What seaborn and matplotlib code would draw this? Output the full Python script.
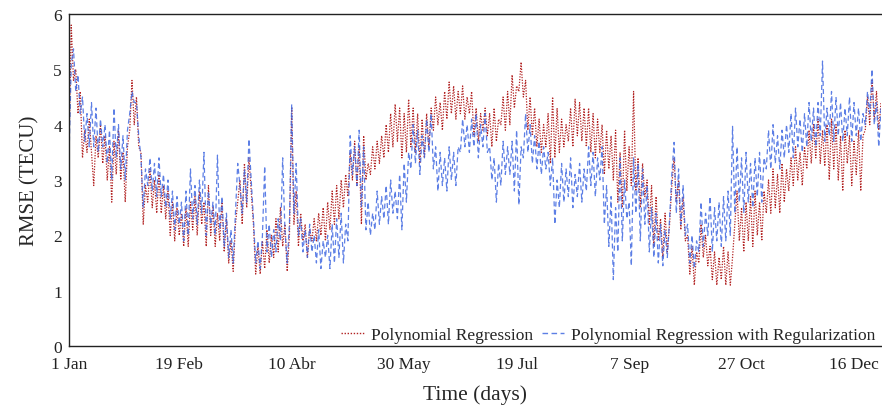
import numpy as np
import pandas as pd
import seaborn as sns
import matplotlib.pyplot as plt

# Daily RMSE (TECU), day 0 = 1 Jan
poly_reg = [
    3.6, 5.8, 4.8, 5.0, 4.2, 4.6, 3.4, 3.9, 3.5, 4.1,
    3.5, 2.9, 3.8, 3.4, 4.0, 3.3, 3.8, 3.0, 3.6, 2.6,
    3.7, 3.1, 3.9, 3.0, 3.5, 2.6, 3.6, 3.9, 4.8, 4.0,
    4.5, 3.6, 3.5, 2.2, 2.9, 2.6, 3.2, 2.5, 3.0, 2.4,
    3.1, 2.4, 2.9, 2.3, 2.8, 2.0, 2.6, 1.9, 2.5, 2.0,
    2.4, 1.8, 2.5, 1.8, 2.6, 2.1, 2.7, 2.0, 2.8, 2.2,
    2.6, 1.8, 2.9, 2.0, 2.5, 1.8, 2.4, 1.9, 2.6, 1.7,
    2.3, 1.5, 1.9, 1.35, 2.2, 2.6, 3.0, 2.2, 3.3, 2.5,
    3.4, 2.8, 2.2, 1.3, 1.8, 1.3, 1.9, 1.4, 2.1, 1.5,
    2.0, 1.6, 2.3, 1.7, 2.5, 1.8, 2.2, 1.35, 2.0, 4.3,
    2.2, 2.8, 1.8, 2.4, 1.9, 2.2, 1.6, 2.1, 1.9, 2.3,
    1.9, 2.4, 2.0, 2.5, 1.9, 2.6, 2.1, 2.8, 2.2, 2.9,
    2.3, 3.0, 2.5, 3.1, 2.7, 3.5, 3.0, 3.7, 2.9, 3.6,
    2.2, 3.8, 3.0, 3.3, 3.1, 3.6, 3.2, 3.7, 3.3, 3.8,
    3.4, 4.0, 3.5, 4.2, 3.6, 4.37, 3.7, 4.3, 3.4, 4.2,
    3.5, 4.46, 3.6, 4.3, 3.5, 4.2, 3.3, 4.1, 3.4, 4.2,
    3.6, 4.3, 3.9, 4.5, 4.0, 4.4, 3.9, 4.6, 4.1, 4.77,
    4.2, 4.7, 4.1, 4.6, 4.2, 4.7, 4.1, 4.5, 4.2, 4.6,
    3.8, 4.3, 3.7, 4.2, 3.9, 4.3, 3.8, 4.2, 3.6, 4.3,
    3.7, 4.1, 4.0, 4.5, 3.9, 4.6, 4.0, 4.9, 4.3, 4.7,
    4.6, 5.13, 4.5, 4.8, 3.9, 4.5, 3.8, 4.3, 3.6, 4.1,
    3.5, 4.0, 3.6, 4.2, 3.3, 4.5, 3.4, 4.3, 3.5, 4.1,
    3.6, 4.0, 3.7, 4.3, 3.6, 4.46, 3.8, 4.4, 3.7, 4.3,
    3.6, 4.3, 3.5, 4.2, 3.4, 4.1, 3.5, 4.0, 3.1, 3.9,
    3.2, 3.8, 3.0, 3.9, 2.6, 3.5, 2.5, 3.9, 2.8, 3.6,
    2.9, 4.6, 2.8, 3.4, 2.5, 3.3, 2.7, 3.0, 2.2, 2.9,
    1.8, 2.7, 1.9, 2.3, 1.6, 2.4, 1.7, 2.2, 2.9, 3.4,
    2.6, 3.0, 2.1, 2.7, 1.9, 2.0, 1.3, 1.8, 1.1, 1.7,
    1.5, 2.2, 1.6, 2.0, 1.45, 1.8, 1.2, 1.7, 1.1, 1.6,
    1.2, 1.8, 1.1, 1.7, 1.1, 1.6, 2.2, 2.8, 1.9, 2.5,
    1.7, 2.6, 1.9, 2.7, 1.8, 2.8, 2.0, 2.6, 1.9, 2.8,
    2.4, 3.0, 2.4, 3.2, 2.5, 3.1, 2.4, 3.3, 2.6, 3.2,
    2.8, 3.4, 2.9, 3.6, 3.0, 3.5, 2.9, 3.6, 3.2, 3.9,
    3.3, 4.0, 3.4, 4.1, 3.3, 3.9, 3.25, 4.0, 3.0, 4.1,
    3.2, 4.0, 3.0, 3.8, 2.8, 3.9, 3.3, 3.8, 2.9, 3.7,
    3.1, 3.9, 2.8, 3.8, 3.9, 4.5, 4.0, 4.8, 4.1, 4.6, 3.9, 4.4,
]

poly_reg_l2 = [
    3.4, 5.1, 5.37, 4.6, 4.9, 4.2, 4.5, 3.7, 4.2, 3.6,
    4.4, 3.6, 4.3, 3.5, 4.1, 3.6, 4.0, 3.3, 3.9, 3.0,
    4.3, 3.4, 4.0, 3.2, 3.8, 3.0, 3.9, 4.2, 4.6, 4.4,
    4.4, 3.8, 3.4, 2.5, 3.2, 2.9, 3.4, 2.8, 3.3, 2.7,
    3.4, 2.7, 3.1, 2.5, 3.0, 2.3, 2.8, 2.1, 2.7, 2.2,
    2.6, 1.9, 2.8, 2.0, 3.2, 2.3, 2.9, 2.2, 3.0, 2.4,
    3.5, 2.0, 2.8, 2.2, 2.6, 2.0, 3.45, 2.1, 2.7, 1.8,
    2.4, 1.6, 2.1, 1.5, 2.4, 3.3, 2.9, 2.4, 3.2, 2.6,
    3.74, 3.0, 2.3, 1.5, 1.9, 1.4, 2.0, 3.25, 1.7, 2.2,
    1.6, 2.1, 1.7, 2.3, 1.9, 3.4, 2.1, 1.5, 2.2, 4.37,
    2.4, 3.3, 2.0, 2.3, 1.7, 2.1, 1.6, 2.2, 1.7, 2.0,
    1.5, 2.1, 1.4, 1.9, 1.6, 2.0, 1.4, 2.2, 1.5, 2.3,
    1.6, 2.4, 1.5, 2.2, 1.9, 3.8, 3.1, 3.6, 2.9, 3.9,
    2.5, 3.6, 2.1, 2.6, 2.0, 2.4, 2.1, 2.8, 2.2, 2.7,
    2.3, 2.9, 2.2, 3.0, 2.4, 2.8, 2.3, 3.1, 2.1, 3.3,
    2.6, 3.5, 3.2, 4.0, 3.3, 3.9, 3.1, 3.8, 3.4, 4.1,
    3.5, 4.2, 3.2, 3.6, 2.8, 3.5, 2.9, 3.4, 2.8, 3.6,
    3.0, 3.5, 2.9, 3.6, 3.5, 4.1, 3.6, 4.0, 3.5, 4.1,
    3.6, 4.2, 3.4, 4.0, 3.6, 4.2, 3.5, 3.6, 3.0, 3.4,
    2.6, 3.3, 2.9, 3.7, 3.1, 3.6, 3.1, 3.7, 2.8, 3.9,
    2.55, 3.6, 3.4, 4.2, 3.5, 4.0, 3.3, 3.8, 3.2, 3.7,
    3.1, 3.6, 3.2, 3.5, 2.9, 3.4, 2.2, 3.0, 2.5, 3.3,
    2.6, 3.2, 2.7, 3.4, 2.5, 3.1, 2.7, 3.3, 2.6, 3.2,
    2.8, 3.6, 2.9, 3.5, 2.7, 3.4, 3.0, 3.6, 2.2, 2.9,
    1.8, 2.7, 1.2, 2.5, 1.7, 3.4, 1.9, 3.0, 2.3, 2.6,
    1.45, 3.4, 2.4, 3.3, 1.9, 3.2, 2.2, 2.9, 1.7, 2.5,
    1.6, 2.4, 1.5, 2.2, 1.45, 2.1, 1.6, 2.3, 3.1, 3.68,
    2.4, 3.2, 2.2, 2.9, 2.0, 2.2, 1.5, 2.0, 1.4, 1.9,
    1.7, 2.6, 1.8, 2.4, 2.0, 2.7, 1.7, 2.5, 1.9, 2.6,
    1.8, 2.7, 1.9, 2.8, 2.0, 3.97, 2.4, 3.6, 2.6, 3.4,
    2.4, 3.5, 2.6, 3.3, 2.5, 3.4, 2.7, 3.5, 2.6, 3.4,
    3.2, 3.9, 3.2, 4.0, 3.3, 3.8, 3.2, 3.9, 3.4, 4.0,
    3.5, 4.2, 3.4, 4.3, 3.6, 4.1, 3.5, 4.2, 3.6, 4.4,
    3.7, 4.3, 3.6, 4.4, 3.8, 5.15, 3.7, 4.3, 3.8, 4.6,
    3.7, 4.5, 3.8, 4.4, 3.7, 4.3, 3.8, 4.5, 3.7, 4.4,
    3.8, 4.3, 3.7, 4.2, 4.0, 4.6, 4.2, 5.0, 4.0, 4.4, 3.6, 4.3,
]

tick_days = [0, 49, 99, 149, 199, 249, 299, 349]
tick_labels = ["1 Jan", "19 Feb", "10 Abr", "30 May", "19 Jul", "7 Sep", "27 Oct", "16 Dec"]

days = np.arange(len(poly_reg))
df = pd.DataFrame({"day": days, "poly": poly_reg, "poly_l2": poly_reg_l2})

sns.set_theme(style="white")
plt.rcParams["font.family"] = ["Liberation Serif", "DejaVu Serif"]

fig = plt.figure(figsize=(8.82, 4.06), dpi=100)
ax = fig.add_axes([69 / 882, 1 - 347 / 406, 812 / 882, 332 / 406])

sns.lineplot(data=df, x="day", y="poly", ax=ax, color="#b22222", linestyle=(0, (1, 1.2)),
             linewidth=0.9, label="Polynomial Regression")
sns.lineplot(data=df, x="day", y="poly_l2", ax=ax, color="#4169e1", linestyle=(0, (4, 2.5)),
             linewidth=0.9, alpha=0.85, label="Polynomial Regression with Regularization")

ax.set_xlim(0, 361)
ax.set_ylim(0, 6)
ax.set_xticks(tick_days)
ax.set_xticklabels(tick_labels)
ax.set_yticks(range(0, 7))
ax.tick_params(axis="x", length=0, pad=7, labelsize=12.5, colors="#222222")
ax.tick_params(axis="y", length=0, pad=5, labelsize=12.5, colors="#222222")
ax.set_xlabel("Time (days)", fontsize=15.5, labelpad=9)
ax.set_ylabel("RMSE (TECU)", fontsize=15, labelpad=10)
ax.spines["right"].set_visible(False)
for s in ["left", "bottom", "top"]:
    ax.spines[s].set_color("#222222")
    ax.spines[s].set_linewidth(1.0)

leg = ax.legend(loc="lower right", bbox_to_anchor=(1.002, -0.012), ncol=2, frameon=False,
                fontsize=12.5, handlelength=1.3, columnspacing=0.5, handletextpad=0.4,
                borderaxespad=0)
for h in leg.get_lines():
    h.set_linewidth(1.0)

fig.savefig("out.png", dpi=100)
